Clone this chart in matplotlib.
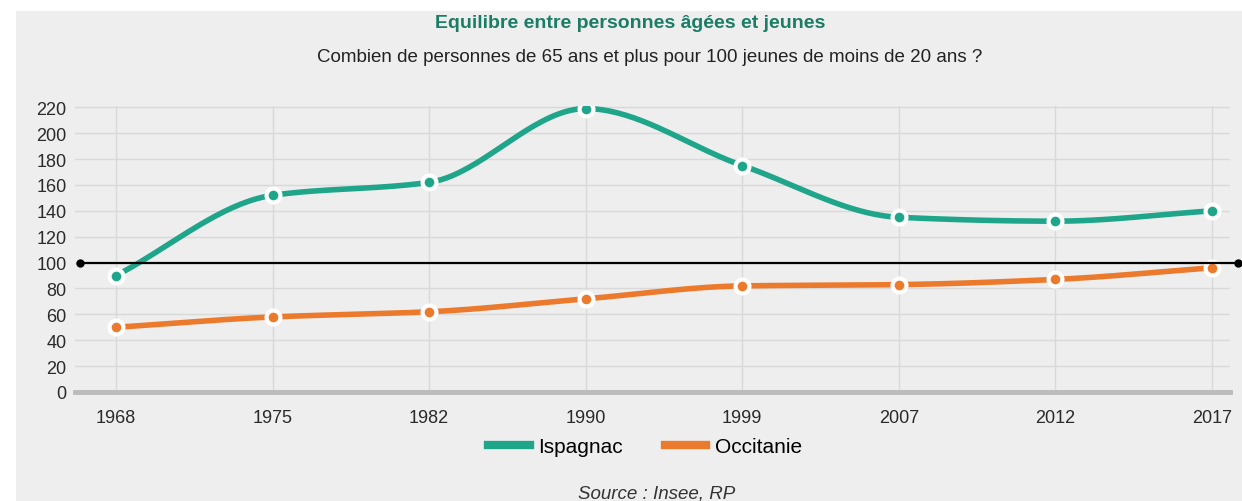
import numpy as np
import matplotlib
matplotlib.use("Agg")
import matplotlib.pyplot as plt
from matplotlib.patches import Rectangle
from matplotlib.lines import Line2D

years = ["1968", "1975", "1982", "1990", "1999", "2007", "2012", "2017"]
ispagnac = [90, 152, 162, 219, 175, 135, 132, 140]
occitanie = [50, 58, 62, 72, 82, 83, 87, 96]
ref_value = 100
yticks = list(range(0, 221, 20))

teal = "#1fa68a"
orange = "#ec7a2c"
bg = "#eeeeee"

plt.rcParams["font.family"] = ["Liberation Sans", "DejaVu Sans"]


def monotone(xs, ys, n=40):
    # monotone cubic (Fritsch-Carlson), like d3.curveMonotoneX
    xs = np.asarray(xs, float)
    ys = np.asarray(ys, float)
    h = np.diff(xs)
    d = np.diff(ys) / h
    m = np.zeros_like(ys)
    m[0], m[-1] = d[0], d[-1]
    for i in range(1, len(ys) - 1):
        if d[i - 1] * d[i] <= 0:
            m[i] = 0
        else:
            m[i] = 3 * (h[i - 1] + h[i]) / ((2 * h[i] + h[i - 1]) / d[i - 1] + (h[i] + 2 * h[i - 1]) / d[i])
    out_x, out_y = [], []
    for i in range(len(xs) - 1):
        t = np.linspace(0, 1, n)
        h00 = 2 * t**3 - 3 * t**2 + 1
        h10 = t**3 - 2 * t**2 + t
        h01 = -2 * t**3 + 3 * t**2
        h11 = t**3 - t**2
        out_x.extend(xs[i] + t * h[i])
        out_y.extend(h00 * ys[i] + h10 * h[i] * m[i] + h01 * ys[i + 1] + h11 * h[i] * m[i + 1])
    return np.array(out_x), np.array(out_y)


fig = plt.figure(figsize=(12.42, 5.02), dpi=100, facecolor="white")
fig.add_artist(Rectangle((16 / 1242, 0), 1, 1 - 12 / 502, transform=fig.transFigure,
                         facecolor=bg, edgecolor="none", zorder=-10))

ax = fig.add_axes([75 / 1242, 1 - 393 / 502, 1155 / 1242, 286 / 502])
ax.set_facecolor("none")
x = np.arange(len(years))

for vals, col in [(ispagnac, teal), (occitanie, orange)]:
    sx, sy = monotone(x, vals)
    ax.plot(sx, sy, color=col, lw=4, solid_capstyle="round", zorder=3)
    ax.plot(x, vals, "o", color=col, ms=10, mec="white", mew=3, zorder=4)

ax.plot([0.004, 1.007], [ref_value, ref_value], color="black", lw=1.6,
        transform=ax.get_yaxis_transform(), clip_on=False, zorder=5,
        marker="o", ms=5)

ax.set_xlim(-0.262, 7.115)
ax.set_ylim(0, 221)
ax.set_xticks(x)
ax.set_xticklabels(years)
ax.set_yticks(yticks)
ax.tick_params(length=0, labelsize=13, colors="#2a2a2a")
ax.tick_params(axis="x", pad=12)
ax.tick_params(axis="y", pad=6)
ax.grid(True, color="#d9d9d9", lw=1)
ax.set_axisbelow(True)
for s in ["top", "right", "left"]:
    ax.spines[s].set_visible(False)
ax.spines["bottom"].set_color("#bbbbbb")
ax.spines["bottom"].set_linewidth(3.5)

fig.text(630 / 1242, 1 - 24 / 502, "Equilibre entre personnes âgées et jeunes",
         ha="center", va="center", fontsize=14, fontweight="bold", color="#1c7d67")
fig.text(650 / 1242, 1 - 57 / 502, "Combien de personnes de 65 ans et plus pour 100 jeunes de moins de 20 ans ?",
         ha="center", va="center", fontsize=13.5, color="#222222")

handles = [Line2D([], [], color=teal, lw=6), Line2D([], [], color=orange, lw=6)]
fig.legend(handles, ["Ispagnac", "Occitanie"], loc="center", bbox_to_anchor=(645 / 1242, 1 - 448 / 502),
           ncol=2, frameon=False, fontsize=15, handlelength=2.0, columnspacing=2.0, handletextpad=0.4)

fig.text(657 / 1242, 1 - 494 / 502, "Source : Insee, RP", ha="center", va="center",
         fontsize=13.5, style="italic", color="#333333")

fig.savefig("out.png", dpi=100)
